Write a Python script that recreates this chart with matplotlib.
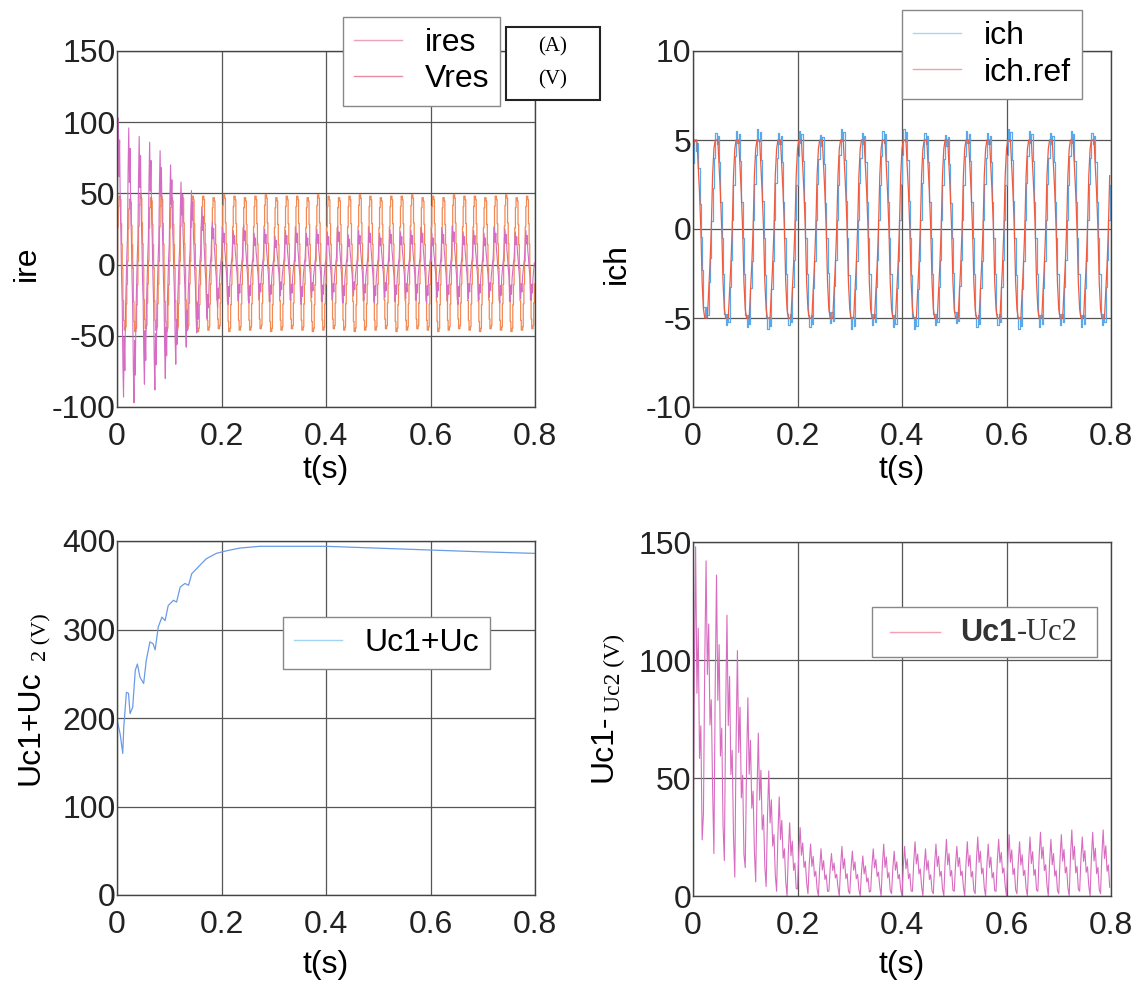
import numpy as np
import matplotlib
matplotlib.use('Agg')
import matplotlib.pyplot as plt
from matplotlib.lines import Line2D
from matplotlib.patches import Rectangle

plt.rcParams['font.family'] = ['Liberation Sans', 'DejaVu Sans']
plt.rcParams['axes.unicode_minus'] = False

# ---- data ----
# ires / Vres : 50 Hz, 40 cycles, 16 samples per cycle
vres_shape = [0.05, 0.55, 0.85, 1.0, 1.0, 0.95, 0.6, 0.3,
              -0.05, -0.55, -0.85, -1.0, -1.0, -0.95, -0.6, -0.3]
vres_hi = [48, 46, 49, 47, 48, 47, 49, 48, 48, 47, 49, 48, 47, 48, 49, 47, 48, 48, 47, 49,
           48, 47, 48, 49, 48, 47, 48, 48, 49, 47, 48, 47, 49, 48, 48, 47, 48, 49, 47, 48]
vres_lo = [-46, -47, -45, -46, -47, -46, -45, -47, -46, -45, -47, -46, -46, -45, -47, -46, -45, -46, -47, -46,
           -45, -46, -47, -46, -46, -45, -47, -46, -45, -46, -47, -46, -45, -46, -47, -45, -46, -47, -46, -45]
ires_shape = [0.2, 0.7, 1.0, 0.6, 0.85, 0.4, 0.2, -0.1,
              -0.3, -0.75, -1.0, -0.55, -0.8, -0.35, -0.15, 0.05]
ires_hi = [103, 96, 90, 86, 80, 70, 58, 52, 40, 30, 26, 24, 28, 22, 25, 20, 24, 26, 22, 25,
           23, 27, 21, 24, 26, 22, 25, 23, 24, 26, 22, 25, 27, 23, 24, 22, 26, 25, 23, 24]
ires_lo = [-93, -97, -84, -88, -80, -70, -58, -48, -38, -30, -28, -25, -27, -24, -26, -22, -25, -28, -23, -26,
           -24, -27, -22, -25, -27, -23, -26, -24, -25, -27, -23, -26, -28, -24, -25, -23, -27, -26, -24, -25]

# ich / ich.ref : 25 Hz, 20 cycles, 16 samples per cycle
ichref_shape = [0.9, 1.0, 1.0, 1.0, 0.7, 0.4, 0.0, -0.6,
                -0.9, -1.0, -1.0, -1.0, -0.7, -0.4, 0.0, 0.6]
ich_shape = [0.8, 1.08, 0.95, 1.05, 0.75, 0.3, -0.1, -0.5,
             -0.95, -1.08, -0.95, -1.05, -0.65, -0.35, 0.1, 0.5]
ichref_amp = [5.0] * 20
ich_amp = [4.6, 5.0, 5.1, 5.2, 5.0, 5.1, 4.9, 5.2, 5.0, 5.1,
           5.2, 5.0, 4.9, 5.1, 5.0, 5.2, 5.1, 5.0, 5.1, 5.0]

# Uc1+Uc2
usum_t = [0.0, 0.006, 0.011, 0.013, 0.018, 0.022, 0.025, 0.030, 0.035, 0.039, 0.044, 0.051,
          0.056, 0.063, 0.069, 0.073, 0.079, 0.086, 0.092, 0.098, 0.108, 0.114, 0.121, 0.130,
          0.137, 0.143, 0.156, 0.171, 0.190, 0.21, 0.235, 0.273, 0.4, 0.495, 0.59, 0.686, 0.8]
usum_v = [198, 182, 160, 190, 229, 228, 205, 212, 254, 261, 246, 239,
          265, 286, 284, 277, 303, 314, 310, 327, 333, 331, 348, 352,
          350, 363, 371, 380, 386, 389, 392, 394, 394, 392, 390, 388, 386]

# Uc1-Uc2 : 50 Hz, 40 cycles, 8 samples per cycle
udiff_shape = [0.0, 0.6, 1.0, 0.55, 0.75, 0.35, 0.45, 0.1]
udiff_hi = [148, 142, 136, 119, 104, 84, 69, 53, 42, 31, 29, 22, 20, 18, 21, 19, 17, 20, 22, 19,
            21, 23, 20, 22, 24, 21, 23, 25, 22, 24, 26, 23, 25, 27, 24, 26, 28, 25, 27, 28]
udiff_lo = [10, 35, 18, 15, 8, 12, 6, 4, 2, 0, 3, 1, 0, 2, 0, 1, 0, 2, 0, 1,
            0, 2, 0, 1, 0, 2, 0, 1, 0, 2, 0, 1, 0, 2, 0, 1, 0, 2, 0, 1]


def build(shape, hi, lo):
    s = np.tile(np.array(shape), len(hi))
    h = np.repeat(np.array(hi, float), len(shape))
    l = np.repeat(np.array(lo, float), len(shape))
    return np.where(s >= 0, s * h, -s * l)


vres = build(vres_shape, vres_hi, vres_lo)
ires = build(ires_shape, ires_hi, ires_lo)
t1 = np.arange(len(vres)) * 0.02 / len(vres_shape)
ich_ref = np.tile(ichref_shape, 20) * np.repeat(ichref_amp, 16)
ich = np.tile(ich_shape, 20) * np.repeat(ich_amp, 16)
t2 = np.arange(len(ich)) * 0.04 / 16
s = np.tile(udiff_shape, 40)
udiff = np.repeat(udiff_lo, 8) + s * (np.repeat(udiff_hi, 8) - np.repeat(udiff_lo, 8))
t4 = np.arange(len(udiff)) * 0.02 / 8

W, H = 1143, 993
fig = plt.figure(figsize=(W / 100, H / 100), dpi=100)


def px(x, y):
    return x / W, 1 - y / H


def axes_px(x0, y0, x1, y1):
    return fig.add_axes([x0 / W, 1 - y1 / H, (x1 - x0) / W, (y1 - y0) / H])


def style(ax, ylim, yticks):
    ax.set_xlim(0, 0.8)
    ax.set_ylim(*ylim)
    ax.set_xticks([0, 0.2, 0.4, 0.6, 0.8])
    ax.set_xticklabels(['0', '0.2', '0.4', '0.6', '0.8'])
    ax.set_yticks(yticks)
    ax.grid(True, color='#555555', lw=0.9)
    ax.set_axisbelow(True)
    for sp in ax.spines.values():
        sp.set_color('#444444')
        sp.set_linewidth(1.0)
    ax.tick_params(axis='x', labelsize=23, length=0, pad=11, colors='#222222')
    ax.tick_params(axis='y', labelsize=23, length=0, pad=1, colors='#222222')


leg_kw = dict(fontsize=23, handlelength=1.5, handletextpad=0.7, borderpad=0.35,
              borderaxespad=0, fancybox=False, framealpha=1, labelspacing=0.2)

# top-left
ax1 = axes_px(117, 51, 535, 407)
ax1.plot(t1, vres, color='#f28a55', lw=0.9, drawstyle='steps-post')
ax1.plot(t1, ires, color='#d66cc4', lw=0.8)
style(ax1, (-100, 150), [-100, -50, 0, 50, 100, 150])
lg = ax1.legend([Line2D([], [], color='#eaa2b8', lw=1), Line2D([], [], color='#e88aa0', lw=1)],
                ['ires', 'Vres'], loc='upper left', bbox_to_anchor=(0.541, 1.096), **leg_kw)
lg.get_frame().set_edgecolor('#888888')
fig.patches.append(Rectangle(px(506, 100), 94 / W, 73 / H, transform=fig.transFigure,
                             fill=True, facecolor='white', edgecolor='#222222', lw=1.5))
fig.text(*px(553, 47), '(A)', family='Liberation Serif', fontsize=15, ha='center', va='center')
fig.text(*px(553, 80), '(V)', family='Liberation Serif', fontsize=15, ha='center', va='center')

# top-right
ax2 = axes_px(693, 51, 1111, 407)
ax2.plot(t2, ich, color='#5aa8ea', lw=0.9, drawstyle='steps-post')
ax2.plot(t2, ich_ref, color='#f05a3c', lw=0.9)
style(ax2, (-10, 10), [-10, -5, 0, 5, 10])
lg = ax2.legend([Line2D([], [], color='#a8d8f0', lw=1), Line2D([], [], color='#f0a0a8', lw=1)],
                ['ich', 'ich.ref'], loc='upper left', bbox_to_anchor=(0.5, 1.115), **leg_kw)
lg.get_frame().set_edgecolor('#888888')

# bottom-left
ax3 = axes_px(117, 541, 535, 895)
ax3.plot(usum_t, usum_v, color='#6a9be8', lw=0.9)
style(ax3, (0, 400), [0, 100, 200, 300, 400])
lg = ax3.legend([Line2D([], [], color='#a0d4f2', lw=1)], ['Uc1+Uc'],
                loc='upper left', bbox_to_anchor=(0.397, 0.785), **leg_kw)
lg.get_frame().set_edgecolor('#888888')

# bottom-right (legend drawn by hand: mixed fonts in the label)
ax4 = axes_px(693, 542, 1111, 896)
ax4.plot(t4, udiff, color='#d86cc0', lw=0.8)
style(ax4, (0, 150), [0, 50, 100, 150])
fig.patches.append(Rectangle(px(872, 657), 225 / W, 50 / H, transform=fig.transFigure,
                             fill=True, facecolor='white', edgecolor='#888888', lw=1.0, zorder=5))
fig.lines.append(Line2D([890 / W, 940 / W], [1 - 632 / H] * 2, transform=fig.transFigure,
                        color='#f0a0b0', lw=1, zorder=6))
fig.text(*px(960, 633), 'Uc1', fontsize=22, fontweight='bold', color='#333333',
         ha='left', va='center', zorder=7)
fig.text(*px(1017, 633), '-Uc2', fontsize=22, family='Liberation Serif', color='#333333',
         ha='left', va='center', zorder=7)

# axis labels
fig.text(*px(27, 263), 'ire', rotation=90, fontsize=23, ha='center', va='center')
fig.text(*px(617, 263), 'ich', rotation=90, fontsize=23, ha='center', va='center')
fig.text(*px(46, 785), 'Uc1+Uc', rotation=90, fontsize=23, ha='right', va='bottom')
fig.text(*px(51, 661), '2 (V)', rotation=90, fontsize=16, family='Liberation Serif', ha='right', va='bottom')
fig.text(*px(619, 782), 'Uc1-', rotation=90, fontsize=23, ha='right', va='bottom')
fig.text(*px(625, 712), 'Uc2 (V)', rotation=90, fontsize=17, family='Liberation Serif', ha='right', va='bottom')
for x, y in [(326, 470), (902, 470), (326, 965), (902, 965)]:
    fig.text(*px(x, y), 't(s)', fontsize=23, ha='center', va='center')

fig.savefig('out.png', dpi=100, facecolor='white')
